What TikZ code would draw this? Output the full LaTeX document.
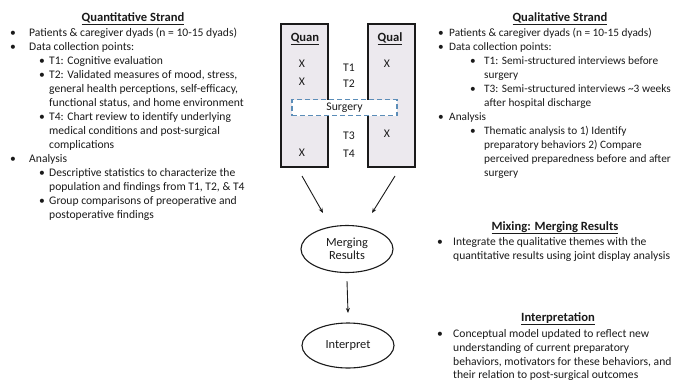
\documentclass[tikz,border=0pt]{standalone}
\usepackage{fontspec}
\setmainfont{Carlito}
\usetikzlibrary{arrows.meta,shapes.geometric}
\definecolor{boxfill}{HTML}{ECE9EE}
\definecolor{dashblue}{HTML}{5B8DB8}
\definecolor{ink}{HTML}{1A1A1A}
\begin{document}
\begin{tikzpicture}[x=1pt,y=-1pt,
  txt/.style={anchor=base west,inner sep=0pt,font=\fontsize{11.6}{14}\selectfont,text=ink},
  txtr/.style={anchor=base west,inner sep=0pt,font=\fontsize{11.3}{14}\selectfont,text=ink},
  ttl/.style={anchor=base,inner sep=0pt,font=\fontsize{12.6}{14}\selectfont\bfseries,text=ink},
  ctr/.style={anchor=base,inner sep=0pt,font=\fontsize{11.7}{14}\selectfont,text=ink},
  strand/.style={draw=ink,line width=1.1pt,fill=boxfill},
  oval/.style={draw=ink,line width=1.1pt,ellipse,minimum width=92pt,minimum height=47pt,inner sep=0pt,align=center,font=\fontsize{12.4}{14}\selectfont,text=ink},
  arr/.style={-{Stealth[length=5pt,width=4pt]},line width=0.9pt,draw=ink}]
\useasboundingbox (0,0) rectangle (676,380);
% ---------- Left: Quantitative strand
\node[ttl] (qtitle) at (133,21) {\underline{Quantitative Strand}};
\node[txt] (qb1) at (10,36) {•};
\node[txt] (ql1) at (29,36) {Patients \& caregiver dyads (n = 10-15 dyads)};
\node[txt] (qb2) at (10,50) {•};
\node[txt] (ql2) at (29,50) {Data collection points:};
\node[txt] (qs1) at (39,64) {•};
\node[txt] (ql3) at (49,64) {T1: Cognitive evaluation};
\node[txt] (qs2) at (39,78) {•};
\node[txt] (ql4) at (49,78) {T2: Validated measures of mood, stress,};
\node[txt] (ql5) at (49,92) {general health perceptions, self-efficacy,};
\node[txt] (ql6) at (49,106) {functional status, and home environment};
\node[txt] (qs3) at (39,120) {•};
\node[txt] (ql7) at (49,120) {T4: Chart review to identify underlying};
\node[txt] (ql8) at (49,134) {medical conditions and post-surgical};
\node[txt] (ql9) at (49,148) {complications};
\node[txt] (qb3) at (10,162) {•};
\node[txt] (ql10) at (29,162) {Analysis};
\node[txt] (qs4) at (39,176) {•};
\node[txt] (ql11) at (49,176) {Descriptive statistics to characterize the};
\node[txt] (ql12) at (49,190) {population and findings from T1, T2, \& T4};
\node[txt] (qs5) at (39,204) {•};
\node[txt] (ql13) at (49,204) {Group comparisons of preoperative and};
\node[txt] (ql14) at (49,218) {postoperative findings};
% ---------- Right: Qualitative strand
\node[ttl] (ltitle) at (560,21) {\underline{Qualitative Strand}};
\node[txtr] (lb1) at (438,36) {•};
\node[txtr] (ll1) at (449,36) {Patients \& caregiver dyads (n = 10-15 dyads)};
\node[txtr] (lb2) at (438,50) {•};
\node[txtr] (ll2) at (449,50) {Data collection points:};
\node[txtr] (ls1) at (470,64) {•};
\node[txtr] (ll3) at (484,64) {T1: Semi-structured interviews before};
\node[txtr] (ll4) at (484,78) {surgery};
\node[txtr] (ls2) at (470,92) {•};
\node[txtr] (ll5) at (484,92) {T3: Semi-structured interviews \textasciitilde3 weeks};
\node[txtr] (ll6) at (484,106) {after hospital discharge};
\node[txtr] (lb3) at (438,120) {•};
\node[txtr] (ll7) at (449,120) {Analysis};
\node[txtr] (ls3) at (470,134) {•};
\node[txtr] (ll8) at (484,134) {Thematic analysis to 1) Identify};
\node[txtr] (ll9) at (484,148) {preparatory behaviors 2) Compare};
\node[txtr] (ll10) at (484,162) {perceived preparedness before and after};
\node[txtr] (ll11) at (484,176) {surgery};
% ---------- Centre boxes
\draw[strand] (281,24) rectangle (328,167);
\draw[strand] (368,24) rectangle (415,167);
\node[ttl] (quan) at (305,41) {\underline{Quan}};
\node[ttl] (qual) at (390,41) {\underline{Qual}};
\node[ctr] (x1) at (302,67) {X};
\node[ctr] (x2) at (302,85) {X};
\node[ctr] (x3) at (302,156) {X};
\node[ctr] (x4) at (387,67) {X};
\node[ctr] (x5) at (387,137) {X};
\node[ctr] (t1) at (349,71) {T1};
\node[ctr] (t2) at (349,87) {T2};
\node[ctr] (t3) at (349,139) {T3};
\node[ctr] (t4) at (349,157) {T4};
\node[draw=dashblue,fill=white,line width=1.1pt,dash pattern=on 5pt off 3pt,minimum width=105pt,minimum height=16pt,inner sep=0pt,font=\fontsize{11.7}{14}\selectfont,text=ink] (surg) at (344.5,107.5) {Surgery};
\coordinate (qanS) at (302,176);
\coordinate (qalS) at (395,176);
% ---------- Ovals
\node[oval] (merge) at (347,249) {Merging\\[-1pt]Results};
\node[oval,minimum height=45pt] (interp) at (348,345.5) {Interpret};
\draw[arr] (qanS) -- (323,213);
\draw[arr] (qalS) -- (372,213);
\draw[arr] (merge.south) ++(0,8) coordinate (mS) (mS) -- (348,313);
% ---------- Mixing
\node[ttl] (mtitle) at (555,230) {\underline{Mixing: Merging Results}};
\node[txt] (mb1) at (437,245) {•};
\node[txt] (ml1) at (453,245) {Integrate the qualitative themes with the};
\node[txt] (ml2) at (453,259) {quantitative results using joint display analysis};
% ---------- Interpretation
\node[ttl] (ititle) at (558,321) {\underline{Interpretation}};
\node[txt] (ib1) at (437,337) {•};
\node[txt] (il1) at (453,337) {Conceptual model updated to reflect new};
\node[txt] (il2) at (453,351) {understanding of current preparatory};
\node[txt] (il3) at (453,365) {behaviors, motivators for these behaviors, and};
\node[txt] (il4) at (453,378) {their relation to post-surgical outcomes};
\end{tikzpicture}
\end{document}
